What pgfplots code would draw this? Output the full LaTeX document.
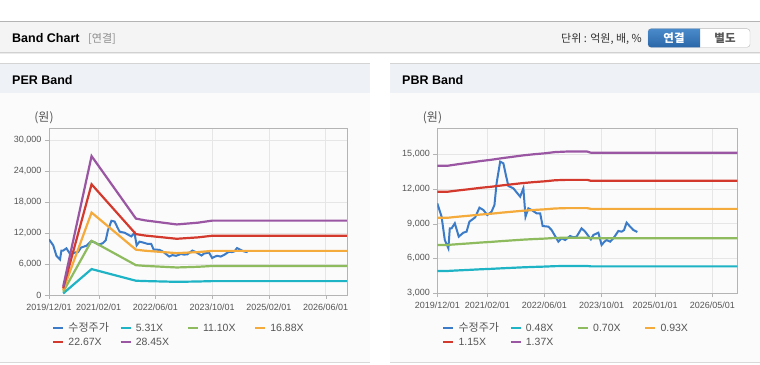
\documentclass[border=0pt]{standalone}
\usepackage{fontspec}
\setmainfont{Liberation Sans}
\newfontfamily\kr{Noto Sans CJK KR}
\usepackage{pgfplots}
\usepackage{pgfplotstable}
\pgfplotsset{compat=1.18}
\definecolor{cBlue}{HTML}{3B7BC8}
\definecolor{cCyan}{HTML}{1FB3C6}
\definecolor{cGreen}{HTML}{8DBB5E}
\definecolor{cOrange}{HTML}{F5AA3C}
\definecolor{cRed}{HTML}{D3392D}
\definecolor{cPurple}{HTML}{9A56A2}
\definecolor{axisgray}{HTML}{B4B4B4}
\definecolor{gridgray}{HTML}{E6E6E6}
\definecolor{tickgray}{HTML}{555555}
\definecolor{hdrgray}{HTML}{F4F4F4}
\definecolor{panelhdr}{HTML}{EEF2F7}
\definecolor{btnblueA}{HTML}{4A8BCB}
\definecolor{btnblueB}{HTML}{2A66A8}

\pgfplotsset{bandaxis/.style={
  scale only axis,
  anchor=south west,
  axis line style={draw=axisgray},
  xmin=0, xmax=84,
  grid=major,
  major grid style={draw=gridgray, line width=0.6pt},
  tick style={draw=axisgray},
  tick align=outside,
  major tick length=4pt,
  xtick pos=bottom, ytick pos=left,
  tick label style={font=\fontsize{9}{10}\selectfont, text=tickgray},
  xticklabel style={yshift=-1.5pt},
  /pgf/number format/assume math mode=true,
  /pgf/number format/1000 sep={,},
  scaled y ticks=false,
  legend columns=4,
  legend cell align=left,
  legend style={draw=none, fill=none, inner sep=0pt, column sep=0pt, row sep=4pt,
     font=\fontsize{10.5}{12}\selectfont, text=tickgray,
     nodes={inner sep=0pt, text height=8pt, text depth=2pt}},
  legend image code/.code={\draw[#1, line width=2.3pt] (0pt,0pt) -- (10pt,0pt);},
  every axis plot/.append style={line width=2.2pt, mark=none},
}}

\pgfplotstableread{
m v
0 10758
1.2 9604
2.1 7585
3.1 6865
3.5 8595
4.0 8595
4.9 9028
5.6 8307
6.0 7874
7.3 8220
8.2 8307
9.0 9172
10.6 9547
11.8 10383
12.9 10181
14.0 9749
15.2 10037
16.0 10614
16.6 12489
17.6 14363
18.5 14219
19.2 13210
19.9 12258
21.3 12056
23.2 11335
24.1 12056
24.7 9604
25.5 10325
26.4 10181
27.8 9893
28.8 9893
29.5 8797
31.1 8740
32.0 8451
33.9 7441
34.8 7730
35.8 7585
37.2 7932
38.1 7816
39.0 7874
40.4 8595
41.4 8307
43.0 7643
43.7 8018
45.1 8220
46.0 7153
46.8 7441
47.4 7585
48.4 7441
49.3 7730
50.7 8365
51.6 8307
52.3 8451
53.0 9085
54.0 8740
54.9 8451
56.0 8278
}\price

\pgfplotstableread{
m c g o r p
4 303 633 962 1292 1622
12 5018 10490 15952 21423 26885
24.5 2761 5772 8778 11788 14794
27 2697 5639 8575 11516 14453
36 2549 5328 8102 10882 13656
42 2613 5461 8305 11154 13997
46 2687 5617 8541 11471 14396
84 2687 5617 8541 11471 14396
}\perband

\pgfplotstableread{
m c g o r p
0 4910 7161 9514 11765 14015
3 4910 7161 9514 11765 14015
6 4958 7231 9607 11880 14152
9 5002 7294 9691 11983 14275
12 5050 7364 9784 12098 14412
15 5088 7420 9858 12190 14522
18 5136 7490 9951 12305 14659
21 5179 7553 10035 12409 14782
24 5222 7616 10118 12512 14906
27 5256 7665 10184 12593 15002
30 5285 7707 10239 12662 15084
33 5323 7763 10314 12754 15193
36 5338 7784 10342 12788 15234
42 5338 7784 10342 12788 15234
43 5304 7735 10277 12708 15139
84 5304 7735 10277 12708 15139
}\pbrband

\newcommand{\legtxt}[1]{\hspace{4pt}\makebox[51pt][l]{#1}}

\begin{document}
\begin{tikzpicture}
\fill[white] (0,0) rectangle (760pt,364pt);
\useasboundingbox (0,0) rectangle (760pt,364pt);
% top header bar
\fill[hdrgray] (0,311pt) rectangle (760pt,342pt);
\draw[color=axisgray, line width=1pt] (0,342pt) -- (760pt,342pt);
\draw[color=black!18, line width=1pt] (0,311pt) -- (760pt,311pt);
\draw[color=black!8, line width=1pt] (0,310pt) -- (760pt,310pt);
\node[anchor=base west, inner sep=0pt, font=\bfseries\fontsize{12.5}{14}\selectfont] at (12pt,321pt) {Band Chart};
\node[anchor=base west, inner sep=0pt, text=black!45, font=\kr\fontsize{11}{13}\selectfont] at (88pt,321pt) {[연결]};
\node[anchor=base east, inner sep=0pt, text=black!80, font=\kr\fontsize{11}{13}\selectfont] at (642pt,321.5pt) {단위 : 억원, 배, \%};
% buttons
\draw[rounded corners=3pt, fill=white, draw=black!27] (648pt,316.7pt) rectangle (750pt,335.3pt);
\begin{scope}
\clip (640pt,300pt) rectangle (700pt,340pt);
\shade[rounded corners=3pt, top color=btnblueA, bottom color=btnblueB] (648pt,316.7pt) rectangle (712pt,335.3pt);
\end{scope}
\node[text=white, inner sep=0pt, font=\kr\bfseries\fontsize{11.5}{13}\selectfont] at (674pt,326pt) {연결};
\node[text=black!65, inner sep=0pt, font=\kr\bfseries\fontsize{11.5}{13}\selectfont] at (725pt,326pt) {별도};
% panels
\fill[black!1.5] (0,2pt) rectangle (370pt,271pt);
\fill[black!1.5] (390pt,2pt) rectangle (760pt,271pt);
\fill[panelhdr] (0,271pt) rectangle (370pt,300pt);
\fill[panelhdr] (390pt,271pt) rectangle (760pt,300pt);
\draw[color=black!17, line width=1pt] (0,300pt) -- (370pt,300pt);
\draw[color=black!17, line width=1pt] (390pt,300pt) -- (760pt,300pt);
\draw[color=black!15, line width=1pt] (0,1.5pt) -- (370pt,1.5pt);
\draw[color=black!15, line width=1pt] (390pt,1.5pt) -- (760pt,1.5pt);
\node[anchor=base west, inner sep=0pt, font=\bfseries\fontsize{12.5}{14}\selectfont] at (12pt,279.5pt) {PER Band};
\node[anchor=base west, inner sep=0pt, font=\bfseries\fontsize{12.5}{14}\selectfont] at (402pt,279.5pt) {PBR Band};
\node[inner sep=0pt, text=tickgray, font=\kr\fontsize{12}{14}\selectfont] at (44pt,246pt) {(원)};
\node[inner sep=0pt, text=tickgray, font=\kr\fontsize{12}{14}\selectfont] at (432.5pt,246pt) {(원)};

% PER axis
\begin{axis}[bandaxis, at={(49pt,69pt)}, width=298pt, height=167pt,
  ymin=0, ymax=32323, ytick={0,6000,12000,18000,24000,30000},
  xtick={0,14,30,46,62,78},
  xticklabels={2019/12/01,2021/02/01,2022/06/01,2023/10/01,2025/02/01,2026/06/01},
  legend style={at={(0.01,-0.168)}, anchor=north west}]
\addplot[cBlue, line width=2pt] table[x=m,y=v] {\price};
\addlegendentry{\legtxt{\kr\fontsize{11}{12}\selectfont 수정주가}}
\addplot[cCyan] table[x=m,y=c] {\perband};
\addlegendentry{\legtxt{5.31X}}
\addplot[cGreen] table[x=m,y=g] {\perband};
\addlegendentry{\legtxt{11.10X}}
\addplot[cOrange] table[x=m,y=o] {\perband};
\addlegendentry{\legtxt{16.88X}}
\addplot[cRed] table[x=m,y=r] {\perband};
\addlegendentry{\legtxt{22.67X}}
\addplot[cPurple] table[x=m,y=p] {\perband};
\addlegendentry{\legtxt{28.45X}}
\end{axis}

% PBR axis
\begin{axis}[bandaxis, at={(437.3pt,71pt)}, width=300pt, height=164.7pt,
  ymin=3000, ymax=17250, ytick={3000,6000,9000,12000,15000},
  xtick={0,14,30,46,61,77},
  xticklabels={2019/12/01,2021/02/01,2022/06/01,2023/10/01,2025/01/01,2026/05/01},
  legend style={at={(0.016,-0.182)}, anchor=north west}]
\addplot[cBlue, line width=2pt] table[x=m,y=v] {\price};
\addlegendentry{\legtxt{\kr\fontsize{11}{12}\selectfont 수정주가}}
\addplot[cCyan] table[x=m,y=c] {\pbrband};
\addlegendentry{\legtxt{0.48X}}
\addplot[cGreen] table[x=m,y=g] {\pbrband};
\addlegendentry{\legtxt{0.70X}}
\addplot[cOrange] table[x=m,y=o] {\pbrband};
\addlegendentry{\legtxt{0.93X}}
\addplot[cRed] table[x=m,y=r] {\pbrband};
\addlegendentry{\legtxt{1.15X}}
\addplot[cPurple] table[x=m,y=p] {\pbrband};
\addlegendentry{\legtxt{1.37X}}
\end{axis}
\end{tikzpicture}
\end{document}
